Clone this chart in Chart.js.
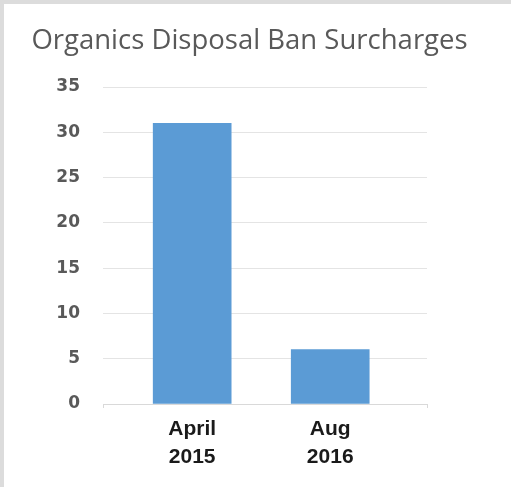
<!DOCTYPE html>
<html>
<head>
<meta charset="utf-8">
<script src="https://cdn.jsdelivr.net/npm/chart.js@4"></script>
<style>
  html, body { margin: 0; padding: 0; background: #ffffff; }
  #wrap { position: absolute; left: 0; top: 0; width: 511px; height: 487px; }
  .bt { position: absolute; left: 0; top: 0; width: 511px; height: 4px; background: #dcdcdc; }
  .bl { position: absolute; left: 0; top: 0; width: 4px; height: 487px; background: #dcdcdc; }
  canvas { position: absolute; left: 0; top: 0; }
</style>
</head>
<body>
<div id="wrap">
  <div class="bt"></div>
  <div class="bl"></div>
  <canvas id="c" width="511" height="487"></canvas>
</div>
<script>
const titleText = 'Organics Disposal Ban Surcharges';
const categories = [['April', '2015'], ['Aug', '2016']];
const surcharges = [31, 6];
const yTicks = [0, 5, 10, 15, 20, 25, 30, 35];

const points = surcharges.map((v, i) => ({ x: i, y: v }));

new Chart(document.getElementById('c'), {
  type: 'bar',
  data: {
    datasets: [{
      data: points,
      backgroundColor: '#5b9bd5',
      borderWidth: 0,
      barThickness: 78
    }]
  },
  options: {
    responsive: false,
    animation: false,
    devicePixelRatio: 1,
    layout: { padding: { left: 0, right: 12, top: 0, bottom: 0 } },
    plugins: {
      legend: { display: false },
      tooltip: { enabled: false },
      title: {
        display: true,
        text: titleText,
        color: '#595959',
        font: { family: 'Open Sans', size: 27.5, weight: 'normal', lineHeight: 1.2 },
        padding: { top: 25, bottom: 29 }
      }
    },
    scales: {
      x: {
        type: 'linear',
        offset: false,
        min: -0.646,
        max: 1.701,
        afterBuildTicks: (scale) => {
          scale.ticks = [{ value: scale.min }].concat(categories.map((c, i) => ({ value: i }))).concat([{ value: scale.max }]);
        },
        afterFit: (scale) => { scale.height = 83; },
        grid: {
          offset: false,
          drawOnChartArea: false,
          drawTicks: true,
          tickLength: 4,
          color: (ctx) => (ctx.tick && Number.isInteger(ctx.tick.value)) ? 'rgba(0,0,0,0)' : '#d9d9d9'
        },
        border: { display: true, color: '#d9d9d9', width: 1 },
        ticks: {
          autoSkip: false,
          maxRotation: 0,
          minRotation: 0,
          padding: 7,
          color: '#1a1a1a',
          font: { family: 'Liberation Sans', size: 21, weight: 'bold', lineHeight: 1.33 },
          callback: (value) => Number.isInteger(value) && categories[value] ? categories[value] : ''
        }
      },
      y: {
        min: 0,
        max: 35,
        afterBuildTicks: (scale) => { scale.ticks = yTicks.map(v => ({ value: v })); },
        afterFit: (scale) => { scale.width = 103; },
        grid: { color: '#e4e4e4', drawTicks: false, lineWidth: 1 },
        border: { display: false },
        ticks: {
          padding: 23,
          color: '#595959',
          font: { family: 'DejaVu Sans', size: 17, weight: 'bold' }
        }
      },
      yPad: {
        type: 'linear',
        position: 'right',
        display: true,
        grid: { display: false, drawTicks: false },
        border: { display: false },
        ticks: { display: false },
        afterFit: (scale) => { scale.width = 72; }
      }
    }
  }
});
</script>
</body>
</html>
